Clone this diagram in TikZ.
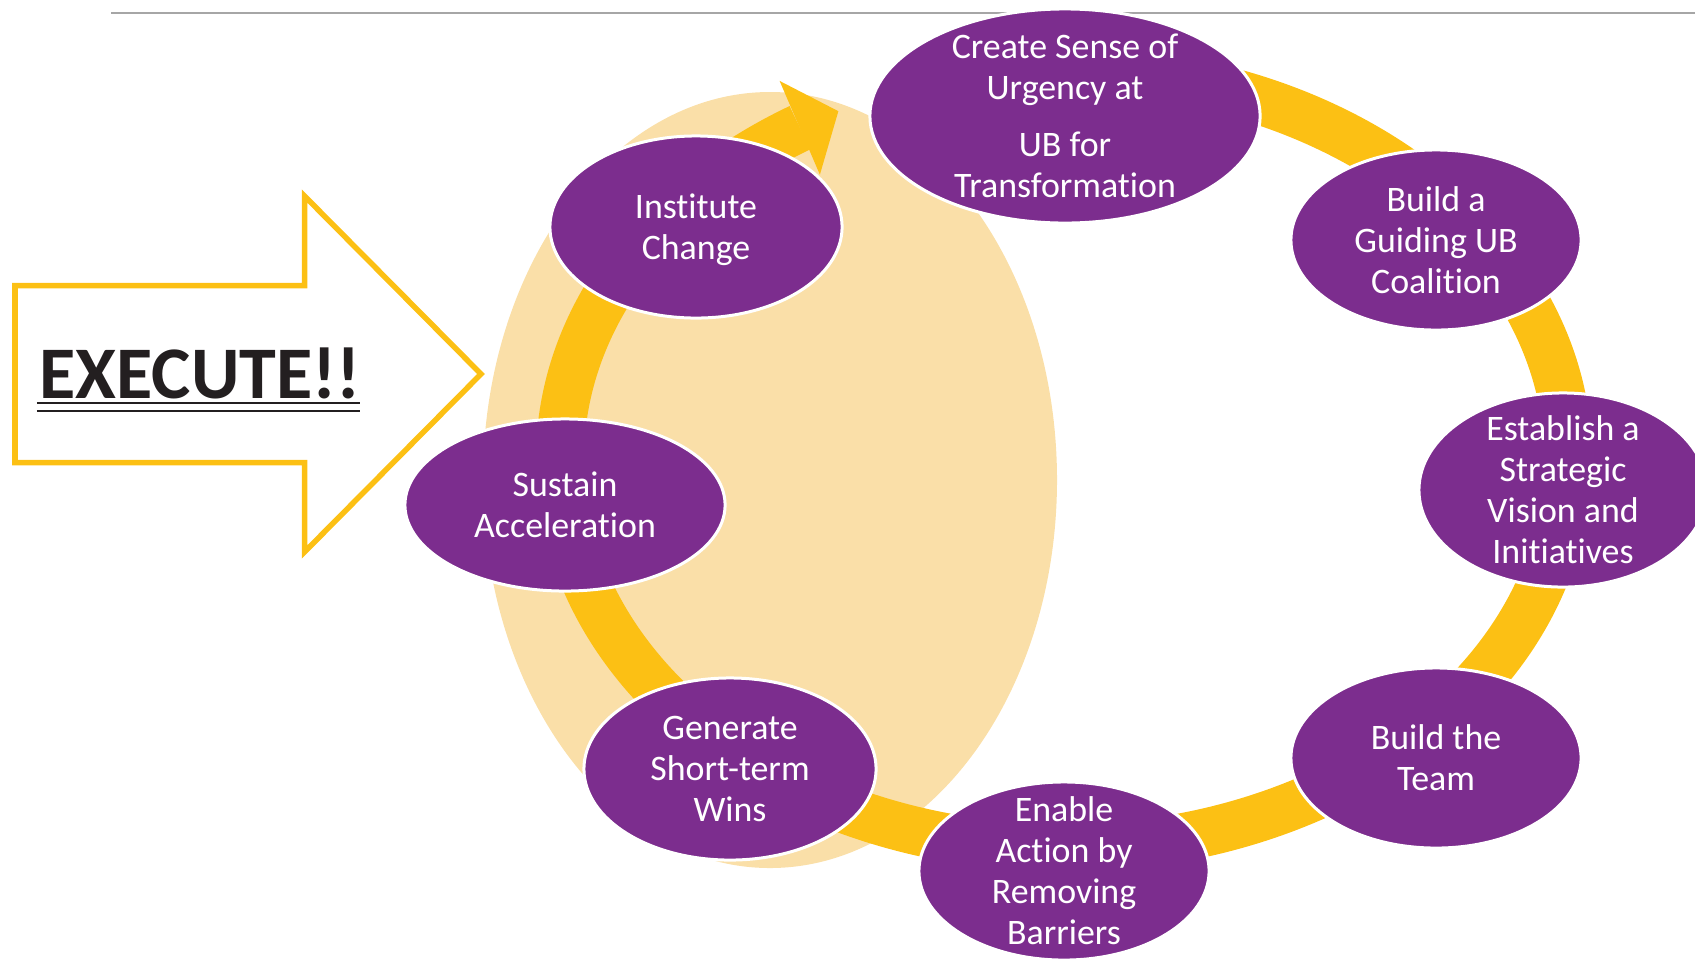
\documentclass[tikz,border=0pt]{standalone}
\usepackage{fontspec}
\setmainfont{Carlito}[Ligatures={NoCommon,NoContextual}]
\usetikzlibrary{arrows.meta, bending, shapes.geometric}
\definecolor{stagepurple}{RGB}{124,45,142}
\definecolor{ringyellow}{RGB}{252,192,20}
\definecolor{halo}{RGB}{250,223,168}
\definecolor{inkblack}{RGB}{35,31,32}
\tikzstyle{stage}=[ellipse, fill=stagepurple, draw=white, line width=0.03cm, inner sep=0pt]
\tikzstyle{stagetext}=[text=white, align=center, inner sep=0pt, font=\fontsize{10.2}{11.66}\selectfont]
\tikzstyle{ring}=[ringyellow, line width=0.48cm, -{Triangle[length=0.42cm, width=1.02cm, line width=0pt]}]

\begin{document}
\begin{tikzpicture}[x=0.01cm, y=-0.01cm]
  \useasboundingbox (0,0) rectangle (1695,960);
  \clip (0,0) rectangle (1695,960);
  % backdrop and rule
  \fill[halo] (770,480) ellipse [x radius=287, y radius=388];
  \draw[gray!70, line width=0.02cm] (111,13) -- (1695,13);
  % execute arrow
  \draw[ringyellow, line width=0.055cm, miter limit=10] (15,285.5) -- (304.5,285.5) -- (304.5,196) -- (481,374)
    -- (304.5,552) -- (304.5,462.5) -- (15,462.5) -- cycle;
  \node[anchor=base west, inner sep=0pt, text=inkblack, font=\bfseries\fontsize{21.1}{24}\selectfont] (execute) at (39,398) {EXECUTE!!};
  \draw[inkblack, line width=0.02cm] ([xshift=-0.02cm, yshift=-0.05cm]execute.base west) -- ([xshift=-0.02cm, yshift=-0.05cm]execute.base east);
  \draw[inkblack, line width=0.02cm] ([xshift=-0.02cm, yshift=-0.13cm]execute.base west) -- ([xshift=-0.02cm, yshift=-0.13cm]execute.base east);
  % ring
  \draw[ring] (1064,459) ++(-80:504 and 389) arc[start angle=-80, end angle=243.4, x radius=504, y radius=389];
  % stages
  \node[stage, minimum width=3.9cm, minimum height=2.14cm] (urgency) at (1065,116) {};
  \node[stage, minimum width=2.9cm, minimum height=1.8cm] (coalition) at (1436,240) {};
  \node[stage, minimum width=2.88cm, minimum height=1.94cm] (vision) at (1563,490) {};
  \node[stage, minimum width=2.9cm, minimum height=1.8cm] (team) at (1436,758) {};
  \node[stage, minimum width=2.9cm, minimum height=1.78cm] (enable) at (1064,871) {};
  \node[stage, minimum width=2.92cm, minimum height=1.82cm] (wins) at (730,769) {};
  \node[stage, minimum width=3.2cm, minimum height=1.72cm] (sustain) at (565,505) {};
  \node[stage, minimum width=2.92cm, minimum height=1.82cm] (institute) at (696,227) {};
  \node[stagetext] at (urgency) {Create Sense of\\Urgency at\\[0.16cm]UB for\\Transformation};
  \node[stagetext] at (coalition) {Build a\\Guiding UB\\Coalition};
  \node[stagetext] at (vision) {Establish a\\Strategic\\Vision and\\Initiatives};
  \node[stagetext] at (team) {Build the\\Team};
  \node[stagetext] at (enable) {Enable\\Action by\\Removing\\Barriers};
  \node[stagetext] at (wins) {Generate\\Short-term\\Wins};
  \node[stagetext] at (sustain) {Sustain\\Acceleration};
  \node[stagetext] at ([yshift=-0.03cm]institute) {Institute\\Change};
\end{tikzpicture}
\end{document}
